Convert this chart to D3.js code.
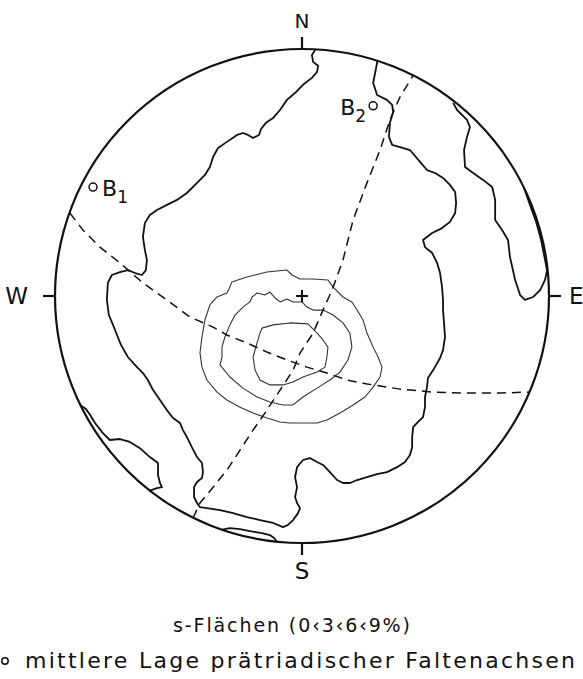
<!DOCTYPE html>
<html>
<head>
<meta charset="utf-8">
<script src="https://cdn.jsdelivr.net/npm/d3@7"></script>
<style>
  html, body { margin: 0; padding: 0; background: #fff; }
  svg { display: block; }
  text { font-family: "DejaVu Sans", sans-serif; fill: #111; }
</style>
</head>
<body>
<svg id="net" width="583" height="679"></svg>
<script>
// Lower-hemisphere net, coordinates in percent of the net radius (east +x, north +y).

const directions = ["N", "E", "S", "W"];
const directionAzimuths = [0, 90, 180, 270];

// 0 % isoline: large outline running from the north rim round the west, south and east back to the north rim
const isoline0Main = [
  [5.3, 99.6], [4.0, 97.6], [4.5, 94.8], [6.5, 93.2], [6.1, 90.7], [4.0, 88.3], [0.4, 85.5], [-2.4, 82.6],
  [-6.1, 79.4], [-8.9, 75.3], [-11.7, 72.1], [-14.6, 70.1], [-16.6, 67.6], [-17.4, 65.2], [-19.8, 64.0],
  [-21.9, 65.2], [-23.9, 66.0], [-26.3, 65.2], [-30.4, 62.4], [-34.0, 59.9], [-36.0, 56.3], [-37.3, 52.2],
  [-39.3, 49.0], [-42.5, 45.8], [-46.6, 41.7], [-50.6, 38.9], [-54.7, 36.9], [-58.7, 34.8], [-61.6, 32.8],
  [-63.6, 29.6], [-64.4, 23.9], [-63.6, 18.6], [-62.8, 14.6], [-63.2, 10.5], [-64.8, 8.5], [-67.6, 9.3],
  [-70.5, 10.5], [-73.7, 9.7], [-77.0, 8.5], [-78.6, 5.3], [-79.0, -1.6], [-78.2, -7.7], [-76.5, -11.7],
  [-74.9, -15.8], [-73.3, -19.8], [-70.5, -24.7], [-66.8, -28.8], [-64.4, -31.2], [-62.4, -34.0],
  [-60.3, -38.1], [-57.5, -42.1], [-54.7, -46.2], [-52.2, -49.4], [-49.4, -51.4], [-48.2, -54.3],
  [-46.6, -57.1], [-44.6, -61.2], [-42.5, -65.2], [-40.5, -67.6], [-40.1, -71.3], [-40.5, -73.7],
  [-42.5, -75.3], [-43.7, -77.4], [-43.7, -81.4], [-42.5, -83.8], [-41.3, -85.5], [-38.5, -85.9],
  [-33.2, -86.7], [-27.9, -87.9], [-22.3, -89.5], [-17.0, -90.7], [-11.7, -91.9], [-7.7, -93.6],
  [-5.7, -92.7], [-3.6, -90.7], [-1.6, -87.9], [-0.8, -85.9], [-2.0, -83.8], [-2.8, -81.4], [-2.0, -77.4],
  [-2.8, -73.3], [-2.0, -69.3], [0.4, -66.4], [3.2, -65.6], [6.1, -67.2], [8.5, -68.4], [11.3, -71.3],
  [14.2, -74.5], [16.6, -75.7], [19.4, -75.7], [22.3, -74.5], [26.3, -73.3], [30.4, -72.1], [34.4, -71.3],
  [38.5, -69.3], [41.7, -67.2], [43.7, -64.4], [44.6, -61.2], [44.6, -57.1], [45.0, -53.1], [47.0, -51.0],
  [49.0, -49.0], [49.8, -45.0], [49.8, -40.9], [50.6, -36.9], [51.0, -33.2], [53.1, -30.0], [55.9, -25.1],
  [57.1, -21.9], [57.9, -16.6], [57.5, -10.9], [57.1, -5.7], [57.1, -1.6], [56.7, 3.6], [55.9, 9.3],
  [54.7, 13.4], [52.7, 17.4], [49.8, 19.8], [49.0, 22.7], [52.7, 25.5], [56.7, 27.5], [59.9, 30.0],
  [62.0, 33.6], [62.4, 37.7], [62.0, 42.1], [59.9, 45.0], [57.1, 47.8], [53.9, 49.8], [50.6, 51.0],
  [47.8, 54.3], [43.7, 59.1], [39.7, 60.3], [36.5, 61.2], [35.2, 64.4], [35.6, 70.1], [36.9, 74.5],
  [36.5, 77.4], [34.4, 79.4], [30.4, 81.4], [28.8, 86.3], [29.6, 90.3], [30.4, 94.4], [30.4, 95.3]
];

// 0 % isoline: tongue along the north-east rim
const isoline0East = [
  [61.2, 78.2], [62.8, 75.3], [66.8, 71.3], [68.0, 68.4], [66.8, 64.4], [65.6, 59.1], [66.0, 52.2],
  [69.3, 49.8], [73.3, 47.0], [77.0, 44.1], [78.2, 38.9], [78.2, 30.8], [81.0, 26.7], [83.4, 22.7],
  [84.2, 15.8], [86.3, 6.5], [88.3, 0.4], [90.3, -1.6], [93.6, -0.4], [96.4, 2.4], [98.4, 6.5],
  [99.2, 10.5], [98.0, 16.6], [96.8, 22.7], [94.8, 30.0], [92.3, 36.9], [89.9, 43.7]
];

// 0 % isoline: sliver on the south-west rim
const isoline0SouthWest = [
  [-89.9, -44.1], [-87.6, -45.6], [-85.9, -48.0], [-83.8, -51.4], [-80.6, -55.5], [-77.8, -58.3],
  [-73.7, -57.9], [-69.7, -59.1], [-65.6, -61.6], [-61.6, -65.2], [-58.3, -67.6], [-58.3, -72.5],
  [-57.5, -75.7], [-56.7, -77.4], [-58.7, -77.8], [-61.6, -78.8]
];

// 0 % isoline: sliver on the south rim
const isoline0South = [
  [-32.4, -94.6], [-29.2, -94.0], [-25.1, -94.4], [-21.1, -95.2], [-16.2, -96.0], [-13.0, -96.8],
  [-11.3, -98.0], [-10.1, -99.5]
];

// 3 %, 6 % and 9 % density contours (closed)
const contour3 = [
  [-28.4, 5.7], [-22.3, 7.7], [-14.2, 9.7], [-6.1, 10.5], [-4.0, 8.5], [-0.8, 6.9], [4.5, 6.9], [10.5, 6.5],
  [12.6, 3.6], [16.6, -0.4], [20.2, -2.4], [22.3, -5.7], [24.7, -9.7], [26.3, -15.0], [28.8, -20.7],
  [30.8, -24.7], [32.4, -28.8], [31.6, -32.8], [28.8, -36.9], [25.5, -40.9], [20.7, -44.1], [15.4, -47.4],
  [10.1, -50.2], [6.1, -51.4], [0.4, -51.4], [-4.9, -51.4], [-8.9, -51.0], [-14.2, -49.4], [-19.8, -47.4],
  [-25.1, -45.0], [-30.4, -42.1], [-34.4, -38.9], [-38.5, -34.0], [-40.5, -28.8], [-41.3, -23.1],
  [-40.5, -16.6], [-39.3, -9.7], [-37.3, -3.6], [-34.4, -0.4], [-30.4, 1.2], [-29.2, 3.6]
];
const contour6 = [
  [-20.2, -0.4], [-18.2, 1.2], [-15.0, 0.4], [-13.0, 1.6], [-10.9, -0.8], [-8.9, -2.4], [-6.1, -1.2],
  [-3.6, -2.4], [0.0, -2.4], [2.0, -4.5], [4.5, -5.7], [8.5, -5.7], [12.6, -7.7], [16.6, -10.9],
  [19.4, -15.0], [20.2, -20.7], [18.6, -25.9], [15.4, -30.8], [11.3, -34.0], [6.1, -37.3], [0.4, -40.9],
  [-3.6, -44.1], [-7.7, -44.1], [-13.0, -42.9], [-18.2, -40.9], [-23.9, -37.3], [-29.2, -32.8],
  [-33.2, -27.9], [-32.4, -24.7], [-32.4, -20.7], [-31.2, -16.6], [-29.2, -11.7], [-27.1, -7.7],
  [-23.9, -4.5], [-21.1, -2.4]
];
const contour9 = [
  [-16.2, -13.0], [-11.7, -11.7], [-4.9, -10.9], [2.4, -11.3], [6.1, -15.0], [8.5, -17.8], [10.5, -20.7],
  [10.1, -24.7], [9.3, -28.8], [6.1, -30.8], [0.4, -32.8], [-3.6, -34.8], [-7.7, -36.0], [-13.0, -36.0],
  [-17.0, -34.0], [-19.0, -30.0], [-19.8, -24.7], [-18.2, -19.0], [-17.0, -15.0]
];

// Great circles of the fold limbs (dashed)
const greatCircleA = [
  [-94.0, 33.6], [-88.7, 26.7], [-81.8, 19.8], [-73.7, 13.4], [-64.4, 5.3], [-54.7, -1.6], [-45.4, -8.5],
  [-36.0, -12.6], [-30.4, -15.8], [-22.3, -19.0], [-14.2, -22.7], [-6.1, -25.9], [2.0, -28.8],
  [10.1, -31.2], [18.2, -34.0], [26.3, -35.6], [39.7, -37.7], [53.1, -38.9], [66.8, -39.3], [80.2, -39.3],
  [91.9, -38.9]
];
const greatCircleB = [
  [-44.1, -89.9], [-41.3, -83.8], [-36.0, -77.4], [-30.4, -70.5], [-25.1, -62.4], [-19.8, -54.3],
  [-14.2, -46.2], [-8.9, -38.1], [-3.6, -30.0], [-0.8, -23.1], [4.5, -15.0], [8.5, -5.7], [10.9, -0.4],
  [12.6, 3.6], [16.6, 14.6], [20.7, 30.8], [26.3, 45.8], [31.6, 59.1], [35.6, 71.3], [39.7, 80.6],
  [45.0, 89.3]
];

// Mean positions of the pre-Triassic fold axes
const foldAxisNames = ["B1", "B2"];
const foldAxisPositions = [[-84.6, 44.1], [28.8, 77.0]];

const titleText = "s-Flächen (0‹3‹6‹9%)";
const legendText = "mittlere  Lage prätriadischer Faltenachsen";

// ---- drawing ----
const svg = d3.select("#net");
const cx = 302, cy = 296, R = 247;

const x = d3.scaleLinear().domain([-100, 100]).range([cx - R, cx + R]);
const y = d3.scaleLinear().domain([-100, 100]).range([cy + R, cy - R]);

const line = d3.line().x(d => x(d[0])).y(d => y(d[1]));
const closedLine = d3.line().x(d => x(d[0])).y(d => y(d[1])).curve(d3.curveLinearClosed);

// primitive circle
svg.append("circle")
  .attr("cx", x(0)).attr("cy", y(0)).attr("r", x(100) - x(0))
  .attr("fill", "none").attr("stroke", "#111").attr("stroke-width", 2.2);

// compass ticks and letters
const tickLen = 12;
const labelOffsets = { N: 28, E: 20, S: 28, W: 27 };
directions.forEach((d, i) => {
  const a = directionAzimuths[i] * Math.PI / 180;
  const ux = Math.sin(a), uy = Math.cos(a);
  svg.append("line")
    .attr("x1", x(100 * ux)).attr("y1", y(100 * uy))
    .attr("x2", x(100 * ux) + tickLen * ux).attr("y2", y(100 * uy) - tickLen * uy)
    .attr("stroke", "#111").attr("stroke-width", 2.2);
  const off = labelOffsets[d];
  const t = svg.append("text")
    .attr("x", x(100 * ux) + off * ux)
    .attr("y", y(100 * uy) - off * uy)
    .attr("dominant-baseline", "central")
    .attr("font-size", d === "N" ? 20 : 23)
    .text(d);
  t.attr("text-anchor", d === "E" ? "start" : d === "W" ? "end" : "middle");
});

// 0 % isolines
[isoline0Main, isoline0East, isoline0SouthWest, isoline0South].forEach(pts => {
  svg.append("path").attr("d", line(pts))
    .attr("fill", "none").attr("stroke", "#111").attr("stroke-width", 1.8)
    .attr("stroke-linejoin", "round");
});

// density contours
[contour3, contour6, contour9].forEach(pts => {
  svg.append("path").attr("d", closedLine(pts))
    .attr("fill", "none").attr("stroke", "#333").attr("stroke-width", 1.1)
    .attr("stroke-linejoin", "round");
});

// dashed great circles
[greatCircleA, greatCircleB].forEach(pts => {
  svg.append("path").attr("d", line(pts))
    .attr("fill", "none").attr("stroke", "#111").attr("stroke-width", 1.5)
    .attr("stroke-dasharray", "9,6");
});

// centre cross
svg.append("path")
  .attr("d", `M${x(0) - 6},${y(0)}H${x(0) + 6}M${x(0)},${y(0) - 6}V${y(0) + 6}`)
  .attr("stroke", "#111").attr("stroke-width", 2);

// fold axes
foldAxisNames.forEach((name, i) => {
  const [px, py] = foldAxisPositions[i];
  svg.append("circle").attr("cx", x(px)).attr("cy", y(py)).attr("r", 4)
    .attr("fill", "none").attr("stroke", "#111").attr("stroke-width", 1.5);
  const left = i === 1;
  const t = svg.append("text")
    .attr("x", left ? x(px) - 7 : x(px) + 9)
    .attr("y", y(py) + 9)
    .attr("font-size", 22)
    .attr("text-anchor", left ? "end" : "start");
  t.append("tspan").text(name[0]);
  t.append("tspan").attr("font-size", 17).attr("dy", 7).text(name.slice(1));
});

// caption and legend
svg.append("text").attr("x", 173).attr("y", 632).attr("font-size", 19)
  .attr("textLength", 237).attr("lengthAdjust", "spacing").text(titleText);
svg.append("circle").attr("cx", 5).attr("cy", 661).attr("r", 3.2)
  .attr("fill", "none").attr("stroke", "#111").attr("stroke-width", 1.5);
svg.append("text").attr("x", 25).attr("y", 668).attr("font-size", 22)
  .attr("textLength", 550).attr("lengthAdjust", "spacing").text(legendText);
</script>
</body>
</html>
